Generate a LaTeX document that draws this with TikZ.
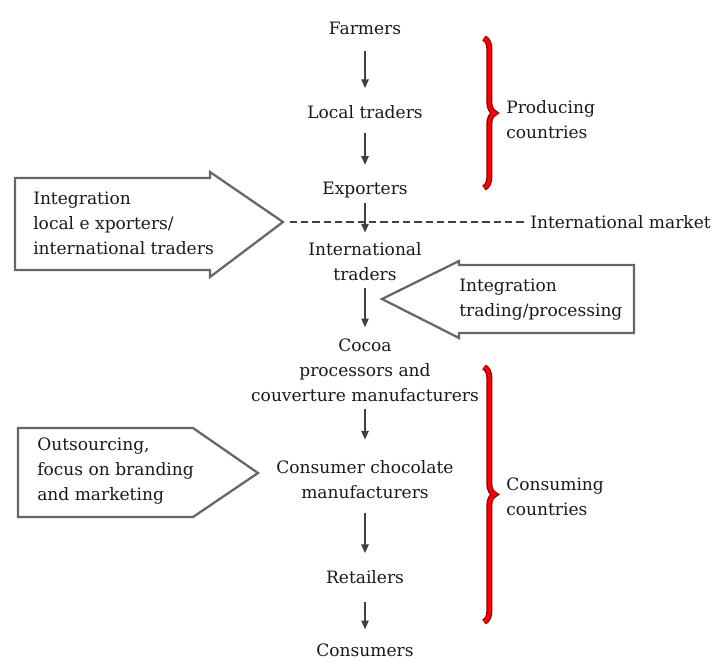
\documentclass[tikz,border=0pt]{standalone}
\usepackage{fontspec}
\setmainfont{DejaVu Serif}
\usetikzlibrary{positioning,arrows.meta,decorations.pathreplacing}

\tikzset{
flow/.style={-{Triangle[length=6.5pt,width=5.5pt]},line width=1.1pt,draw=black!75},
gap/.style 2 args={shorten <=#1*0.75pt,shorten >=#2*0.75pt},
blockarrow/.style={draw=black!60,line width=1.7pt,line join=miter},
sidebrace/.style={decorate,decoration={brace,amplitude=8pt},line width=#1},
}

\begin{document}
\begin{tikzpicture}[
x=0.75pt,y=-0.75pt,
every node/.style={inner sep=0pt,text=black!90,align=center,
  font=\fontsize{12.8pt}{18.8pt}\selectfont},
]
\useasboundingbox (0,0) rectangle (712,661);

% supply chain
\node (farm) at (365,28) {Farmers};
\node (local) at (365,112) {Local traders};
\node (exp) at (365,190) {Exporters};
\node (intl) at (365,262) {International\\traders};
\node (proc) at (365,370) {Cocoa\\processors and\\couverture manufacturers};
\node (cons) at (365,480) {Consumer chocolate\\manufacturers};
\node (ret) at (365,577) {Retailers};
\node (cust) at (365,650) {Consumers};

\draw[flow,gap={16}{17}] (farm) -- (local);
\draw[flow,gap={14}{17}] (local) -- (exp);
\draw[flow,gap={5}{10}] (exp) -- (intl);
\draw[flow,gap={7}{11}] (intl) -- (proc);
\draw[flow,gap={7}{21}] (proc) -- (cons);
\draw[flow,gap={14}{17}] (cons) -- (ret);
\draw[flow,gap={18}{14}] (ret) -- (cust);

% market line
\coordinate (tip1) at (283,222);
\node[anchor=west] (mkt) at (530,222) {International market};
\draw[black!75,line width=1pt,dash pattern=on 5.5pt off 3pt,shorten <=5pt,shorten >=3pt] (tip1) -- (mkt.west);

% block arrows
\draw[blockarrow] (15,178) -- (210,178) -- (210,172) -- (tip1) -- (210,277) -- (210,270) -- (15,270) -- cycle;
\node[anchor=west,align=left] (integ1) at (33,223) {Integration\\local e xporters/\\international traders};

\draw[blockarrow] (634,265) -- (459,265) -- (459,261) -- (382,299) -- (459,338) -- (459,333) -- (634,333) -- cycle;
\node[anchor=west,align=left] (integ2) at (459,300) {Integration\\trading/processing};

\draw[blockarrow] (18,428) -- (193,428) -- (258,473) -- (193,517) -- (18,517) -- cycle;
\node[anchor=west,align=left] (outs) at (37,471) {Outsourcing,\\focus on branding\\and marketing};

% country braces
\foreach \ya/\yb in {38/188,367/622}{
  \draw[sidebrace=4.5pt,red!55!black] (484,\ya) -- (484,\yb);
  \draw[sidebrace=2.6pt,red] (484,\ya) -- (484,\yb);
}
\node[anchor=west,align=left] (prod) at (506,120) {Producing\\countries};
\node[anchor=west,align=left] (cnsm) at (506,497) {Consuming\\countries};

\end{tikzpicture}
\end{document}
